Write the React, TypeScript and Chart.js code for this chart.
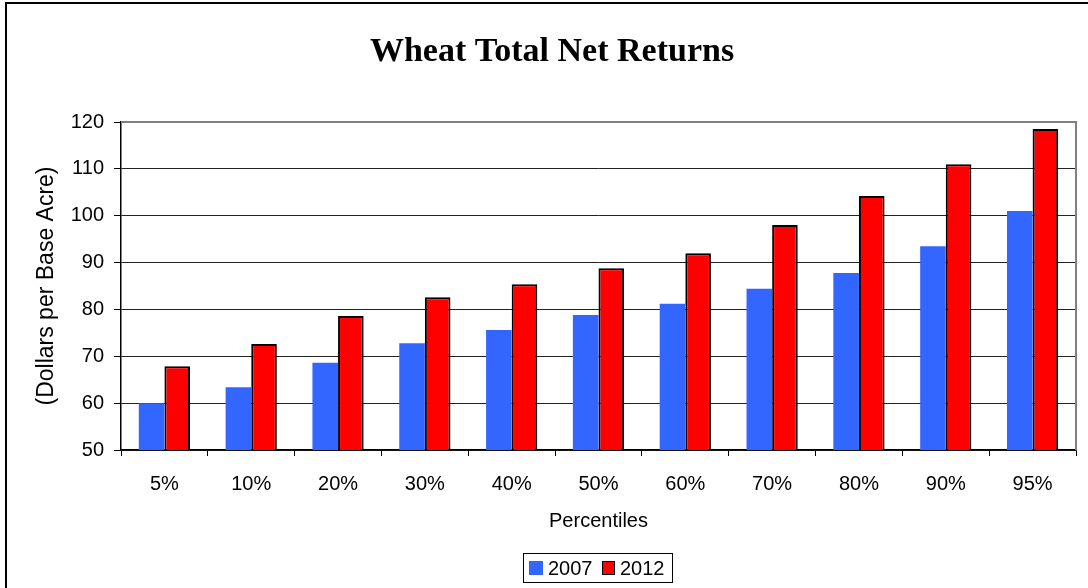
import React, { useEffect, useRef } from "react";
import { Chart, registerables } from "chart.js";

Chart.register(...registerables);

const categories = ["5%", "10%", "20%", "30%", "40%", "50%", "60%", "70%", "80%", "90%", "95%"];
const series2007 = [60.0, 63.4, 68.6, 72.8, 75.6, 78.8, 81.2, 84.4, 87.8, 93.5, 101.0];
const series2012 = [67.9, 72.6, 78.6, 82.6, 85.4, 88.8, 92.0, 98.0, 104.2, 111.0, 118.5];
const seriesLabels = ["2007", "2012"];
const yMin = 50;
const yMax = 120;
const yStep = 10;
const chartTitle = "Wheat Total Net Returns";
const xAxisTitle = "Percentiles";
const yAxisTitle = "(Dollars per Base Acre)";

const BLUE = "#3366FF";
const RED = "#FF0000";
const SANS = "'Liberation Sans', Arial, sans-serif";
const SERIF = "'Liberation Serif', 'Times New Roman', serif";

const decorPlugin = {
  id: "decor",
  afterDraw(chart: any) {
    const ctx = chart.ctx;
    const a = chart.chartArea;
    ctx.save();
    // outer frame (top & left)
    ctx.fillStyle = "#000";
    ctx.fillRect(5, 2, 1083, 2);
    ctx.fillRect(5, 2, 2, 586);
    // plot border right/top in gray
    ctx.strokeStyle = "#808080";
    ctx.lineWidth = 2;
    ctx.beginPath();
    ctx.moveTo(a.left, a.top);
    ctx.lineTo(a.right, a.top);
    ctx.lineTo(a.right, a.bottom);
    ctx.stroke();
    // title
    ctx.fillStyle = "#000";
    ctx.font = `bold 34px ${SERIF}`;
    ctx.textAlign = "center";
    ctx.textBaseline = "alphabetic";
    ctx.fillText(chartTitle, 552, 61);
    // legend
    ctx.lineWidth = 1;
    ctx.strokeStyle = "#000";
    ctx.strokeRect(523.5, 553.5, 149, 29);
    ctx.fillStyle = BLUE;
    ctx.fillRect(529, 561, 14, 14);
    ctx.fillStyle = RED;
    ctx.fillRect(602, 561, 13, 14);
    ctx.strokeStyle = "#000";
    ctx.strokeRect(602.5, 561.5, 12, 13);
    ctx.fillStyle = "#000";
    ctx.font = `20px ${SANS}`;
    ctx.textAlign = "left";
    ctx.fillText(seriesLabels[0], 548, 575);
    ctx.fillText(seriesLabels[1], 620, 575);
    ctx.restore();
  },
};

export default function App() {
  const ref = useRef<HTMLCanvasElement | null>(null);
  useEffect(() => {
    if (!ref.current) return;
    const chart = new Chart(ref.current, {
      type: "bar",
      data: {
        labels: categories,
        datasets: [
          {
            label: seriesLabels[0],
            data: series2007,
            backgroundColor: BLUE,
            borderWidth: 0,
            categoryPercentage: 0.59,
            barPercentage: 1,
          },
          {
            label: seriesLabels[1],
            data: series2012,
            backgroundColor: RED,
            borderColor: "#000",
            borderWidth: 2,
            categoryPercentage: 0.59,
            barPercentage: 1,
          },
        ],
      },
      options: {
        responsive: false,
        animation: false,
        devicePixelRatio: 1,
        layout: { padding: { top: 122, left: 0, right: 12, bottom: 0 } },
        plugins: {
          legend: { display: false },
          title: { display: false },
          tooltip: { enabled: false },
        },
        scales: {
          x: {
            afterFit: (s: any) => {
              s.height = 138;
            },
            grid: {
              drawOnChartArea: false,
              drawTicks: true,
              tickLength: 6,
              color: "#000",
              offset: true,
            },
            border: { display: true, color: "#000", width: 1.5 },
            ticks: {
              color: "#000",
              font: { family: SANS, size: 20 },
              padding: 16,
              maxRotation: 0,
            },
            title: {
              display: true,
              text: xAxisTitle,
              color: "#000",
              font: { family: SANS, size: 20 },
              padding: { top: 0, bottom: 55 },
            },
          },
          y: {
            min: yMin,
            max: yMax,
            afterFit: (s: any) => {
              s.width = 121;
            },
            grid: {
              color: (c: any) => (c.tick && c.tick.value === yMax ? "#808080" : "#222"),
              lineWidth: 1,
              drawTicks: true,
              tickLength: 7,
              tickColor: "#000",
            },
            border: { display: true, color: "#000", width: 1.5 },
            ticks: {
              stepSize: yStep,
              color: "#000",
              font: { family: SANS, size: 20 },
              padding: 10,
            },
            title: {
              display: true,
              text: yAxisTitle,
              color: "#000",
              font: { family: SANS, size: 23 },
              padding: { top: 33, bottom: 0 },
            },
          },
        },
      },
      plugins: [decorPlugin],
    });
    return () => chart.destroy();
  }, []);
  return (
    <div style={{ position: "fixed", left: 0, top: 0, width: 1088, height: 588, background: "#fff" }}>
      <canvas ref={ref} width={1088} height={588} style={{ display: "block" }} />
    </div>
  );
}
